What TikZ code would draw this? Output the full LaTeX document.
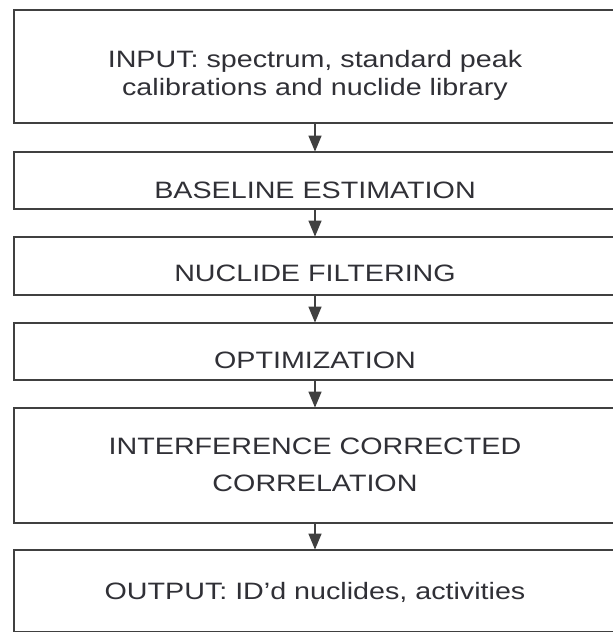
\documentclass[tikz,border=0pt]{standalone}
\usepackage{fontspec}
\setmainfont{Liberation Sans}[FakeStretch=1.21]
\usetikzlibrary{arrows.meta}
\definecolor{edge}{HTML}{404040}
\definecolor{ink}{HTML}{303036}
\tikzset{
  stepbox/.style={draw=edge, line width=1.8pt, minimum width=602pt, inner sep=0pt},
  steptext/.style={text=ink, align=center, anchor=base, inner sep=0pt},
  flow/.style={draw=edge, line width=1.4pt, -{Triangle[width=13pt,length=16pt]}, shorten >=-0.5pt}
}
\begin{document}
\begin{tikzpicture}[x=1pt, y=-1pt]
  \useasboundingbox (0,0) rectangle (613,632);
  % boxes (right edge runs past the page)
  \node[stepbox, minimum height=113pt] (b1) at (315,66.5) {};
  \node[stepbox, minimum height=57pt]  (b2) at (315,180.5) {};
  \node[stepbox, minimum height=58pt]  (b3) at (315,266) {};
  \node[stepbox, minimum height=57pt]  (b4) at (315,351.5) {};
  \node[stepbox, minimum height=115pt] (b5) at (315,465.5) {};
  \node[stepbox, minimum height=82pt]  (b6) at (315,591) {};
  % labels (positions are last-line baselines)
  \node[steptext, font=\fontsize{23.7}{28}\selectfont] (t1) at (315,95.5)
    {INPUT: spectrum, standard peak\\calibrations and nuclide library};
  \node[steptext, font=\fontsize{23.7}{28}\selectfont] (t2) at (315,198) {BASELINE ESTIMATION};
  \node[steptext, font=\fontsize{23.7}{28}\selectfont] (t3) at (315,281) {NUCLIDE FILTERING};
  \node[steptext, font=\fontsize{23.7}{28}\selectfont] (t4) at (315,368) {OPTIMIZATION};
  \node[steptext, font=\fontsize{23.7}{37}\selectfont] (t5) at (315,491)
    {INTERFERENCE CORRECTED\\CORRELATION};
  \node[steptext, font=\fontsize{23.7}{28}\selectfont] (t6) at (315,599.5) {OUTPUT: ID'd nuclides, activities};
  % connectors
  \draw[flow] (b1) -- (b2);
  \draw[flow] (b2) -- (b3);
  \draw[flow] (b3) -- (b4);
  \draw[flow] (b4) -- (b5);
  \draw[flow] (b5) -- (b6);
\end{tikzpicture}
\end{document}
